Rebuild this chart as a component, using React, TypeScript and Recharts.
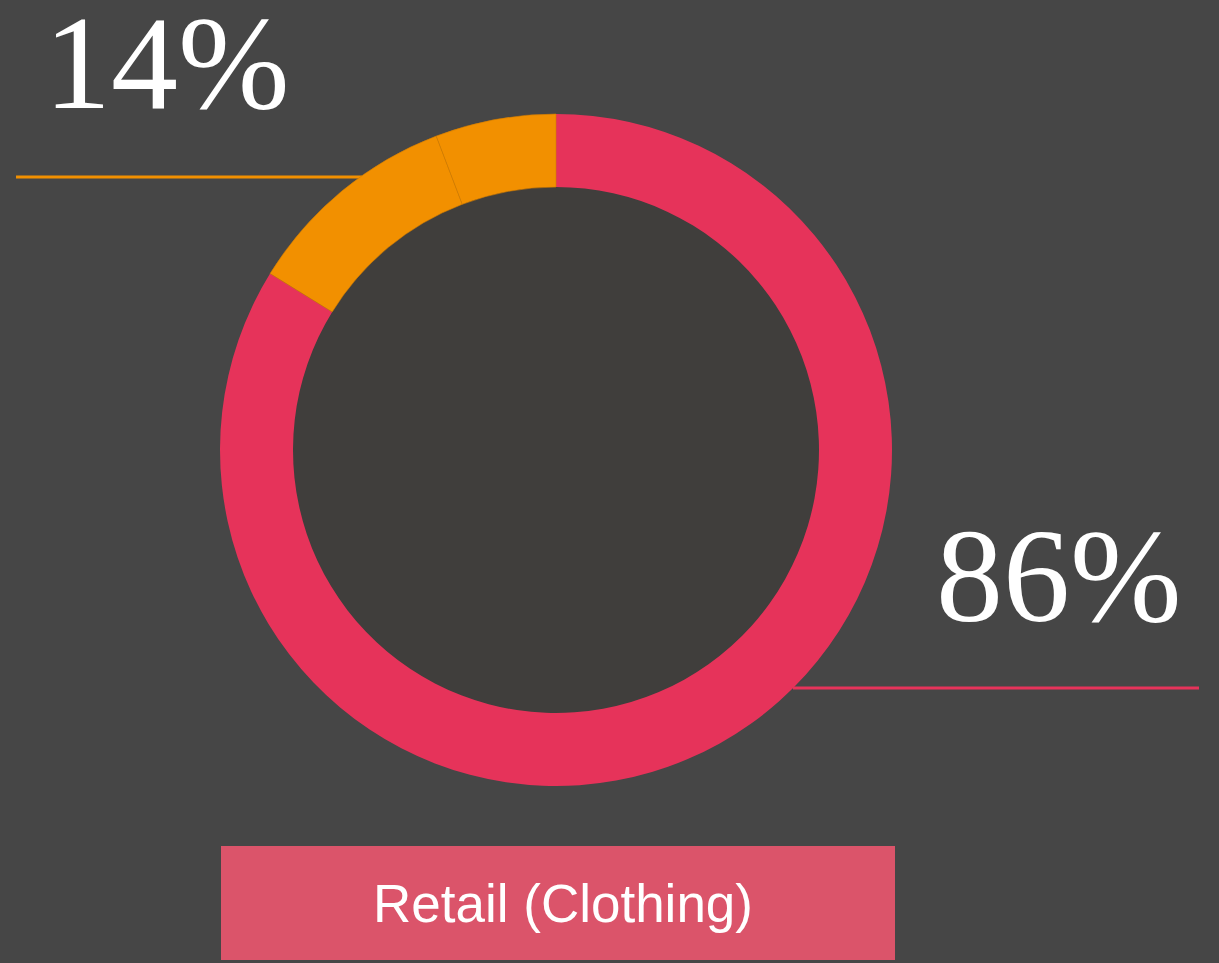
import React from 'react';
import { PieChart, Pie, Cell } from 'recharts';

const categories = ['Retail (Clothing)', 'Other (part 1)', 'Other (part 2)'];
const values = [83.8, 10.4, 5.8];
const colors = ['#e6335a', '#f29000', '#f29000'];
const percentLabels = ['86%', '14%'];
const title = 'Retail (Clothing)';

const data = categories.map((name, i) => ({ name, value: values[i] }));
const centerData = [{ name: 'center', value: 1 }];

export default function App() {
  return (
    <div style={{ position: 'fixed', left: 0, top: 0, width: 1219, height: 963, background: '#464646' }}>
      <PieChart width={1219} height={963} margin={{ top: 0, right: 0, bottom: 0, left: 0 }}>
        <Pie
          data={centerData}
          dataKey="value"
          cx={556}
          cy={450}
          innerRadius={0}
          outerRadius={264}
          startAngle={90}
          endAngle={-270}
          stroke="none"
          fill="#403e3c"
          isAnimationActive={false}
        />
        <Pie
          data={data}
          dataKey="value"
          nameKey="name"
          cx={556}
          cy={450}
          innerRadius={263}
          outerRadius={336}
          startAngle={90}
          endAngle={-270}
          isAnimationActive={false}
        >
          {data.map((d, i) => (
            <Cell key={d.name} fill={colors[i]} stroke={i === 0 ? 'none' : '#d27c00'} strokeWidth={i === 0 ? 0 : 0.6} />
          ))}
        </Pie>
        <line x1={16} y1={177} x2={362} y2={177} stroke="#f29000" strokeWidth={3} />
        <line x1={793} y1={688} x2={1199} y2={688} stroke="#e6335a" strokeWidth={3} />
        <text x={44} y={108} fill="#ffffff" fontFamily="'Liberation Serif', serif" fontSize={134}>{percentLabels[1]}</text>
        <text x={936} y={621} fill="#ffffff" fontFamily="'Liberation Serif', serif" fontSize={134}>{percentLabels[0]}</text>
        <rect x={221} y={846} width={674} height={114} fill="#db546a" />
        <text x={563} y={922} textAnchor="middle" fill="#ffffff" fontFamily="'Liberation Sans', Arial, sans-serif" fontSize={53}>{title}</text>
      </PieChart>
    </div>
  );
}
